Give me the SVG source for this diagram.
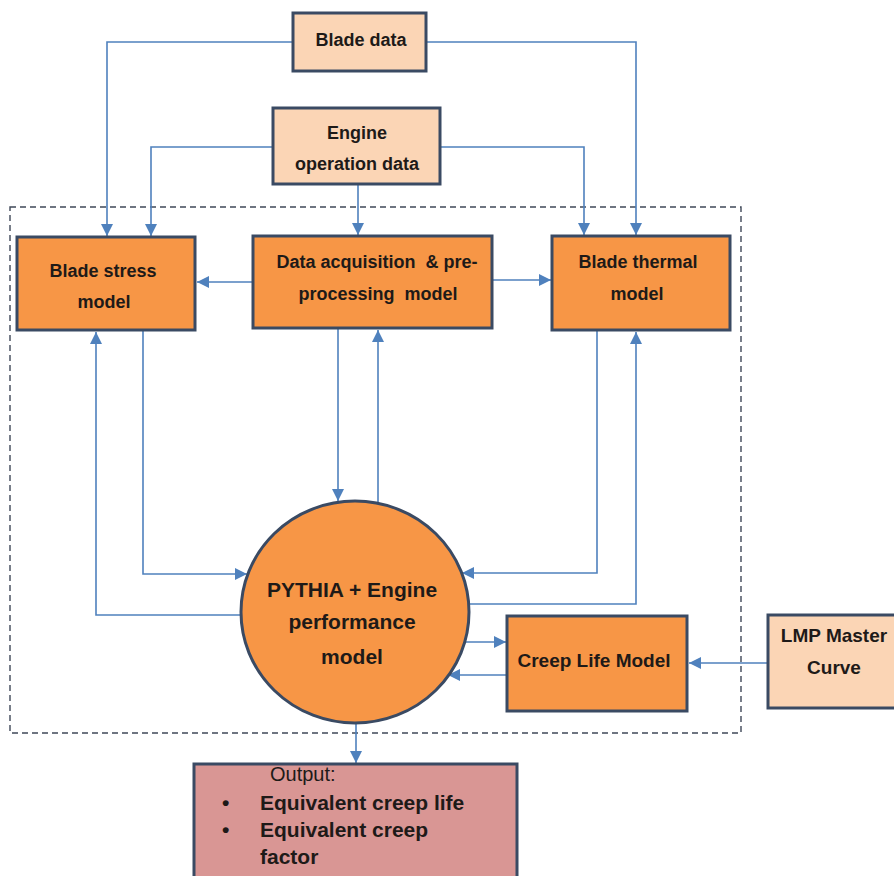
<svg xmlns="http://www.w3.org/2000/svg" width="894" height="876" viewBox="0 0 894 876">
<style>
.light{fill:#FBD5B5;stroke:#3A4A63;stroke-width:3}
.orange{fill:#F79646;stroke:#3A4A63;stroke-width:3}
.out{fill:#D99694;stroke:#3A4A63;stroke-width:3}
.t{font-family:"Liberation Sans",Arial,sans-serif;font-weight:bold;font-size:18px;fill:#1E1A18;text-anchor:middle;white-space:pre}
.t19{font-size:19px}
.t21{font-size:21px}
.tl{font-family:"Liberation Sans",Arial,sans-serif;font-size:20px;fill:#1E1A18}
.big{font-family:"Liberation Sans",Arial,sans-serif;font-weight:bold;font-size:21px;fill:#1E1A18}
.c{fill:none;stroke:#4F81BD;stroke-width:1.6}
.dash{fill:none;stroke:#3F4858;stroke-width:1.4;stroke-dasharray:6 4}
</style>
<defs>
<marker id="ah" markerUnits="userSpaceOnUse" markerWidth="12" markerHeight="12" viewBox="0 0 12 12" refX="12" refY="6" orient="auto">
<path d="M0,0 L12,6 L0,12 Z" fill="#4F81BD"/>
</marker>
</defs>
<rect width="894" height="876" fill="#FFFFFF"/>
<rect class="dash" x="10" y="207" width="731" height="526"/>
<g id="connectors">
<path class="c" d="M293,42 H107 V236" marker-end="url(#ah)"/>
<path class="c" d="M426,42 H636 V235" marker-end="url(#ah)"/>
<path class="c" d="M273,147 H151 V236" marker-end="url(#ah)"/>
<path class="c" d="M440,147 H584 V235" marker-end="url(#ah)"/>
<path class="c" d="M358,185 V235" marker-end="url(#ah)"/>
<path class="c" d="M252,282 H197" marker-end="url(#ah)"/>
<path class="c" d="M493,280 H551" marker-end="url(#ah)"/>
<path class="c" d="M143,331 V574 H247" marker-end="url(#ah)"/>
<path class="c" d="M241,615 H96 V332" marker-end="url(#ah)"/>
<path class="c" d="M338,329 V501" marker-end="url(#ah)"/>
<path class="c" d="M378,503 V330" marker-end="url(#ah)"/>
<path class="c" d="M597,331 V573 H462" marker-end="url(#ah)"/>
<path class="c" d="M468,604 H636 V332" marker-end="url(#ah)"/>
<path class="c" d="M464,642 H506" marker-end="url(#ah)"/>
<path class="c" d="M506,675 H448" marker-end="url(#ah)"/>
<path class="c" d="M767,663 H689" marker-end="url(#ah)"/>
<path class="c" d="M356,723 V763" marker-end="url(#ah)"/>
</g>
<g id="blade-data">
<rect class="light" x="293" y="13" width="133" height="58"/>
<text class="t" x="361" y="46">Blade data</text>
</g>
<g id="engine-operation-data">
<rect class="light" x="273" y="108" width="167" height="76"/>
<text class="t" x="357" y="139">Engine</text>
<text class="t" x="357" y="170">operation data</text>
</g>
<g id="blade-stress-model">
<rect class="orange" x="17" y="237" width="178" height="93"/>
<text class="t" x="103" y="277">Blade stress</text>
<text class="t" x="104" y="308">model</text>
</g>
<g id="data-acquisition">
<rect class="orange" x="253" y="236" width="239" height="92"/>
<text class="t" x="377" y="268">Data acquisition  &amp; pre-</text>
<text class="t" x="378" y="300">processing  model</text>
</g>
<g id="blade-thermal-model">
<rect class="orange" x="552" y="236" width="178" height="94"/>
<text class="t" x="638" y="268">Blade thermal</text>
<text class="t" x="637" y="300">model</text>
</g>
<g id="pythia">
<ellipse class="orange" cx="355" cy="612" rx="114" ry="111"/>
<text class="t t21" x="352" y="597">PYTHIA + Engine</text>
<text class="t t21" x="352" y="629">performance</text>
<text class="t t21" x="352" y="664">model</text>
</g>
<g id="creep-life-model">
<rect class="orange" x="507" y="616" width="180" height="95"/>
<text class="t t19" x="594" y="667">Creep Life Model</text>
</g>
<g id="lmp-master-curve">
<rect class="light" x="768" y="615" width="132" height="93"/>
<text class="t t19" x="834" y="642">LMP Master</text>
<text class="t t19" x="834" y="674">Curve</text>
</g>
<g id="output">
<rect class="out" x="194" y="764" width="323" height="120"/>
<text class="tl" x="270" y="781">Output:</text>
<text class="big" x="222" y="810">•</text>
<text class="big" x="260" y="810">Equivalent creep life</text>
<text class="big" x="222" y="837">•</text>
<text class="big" x="260" y="837">Equivalent creep</text>
<text class="big" x="260" y="864">factor</text>
</g>
</svg>
